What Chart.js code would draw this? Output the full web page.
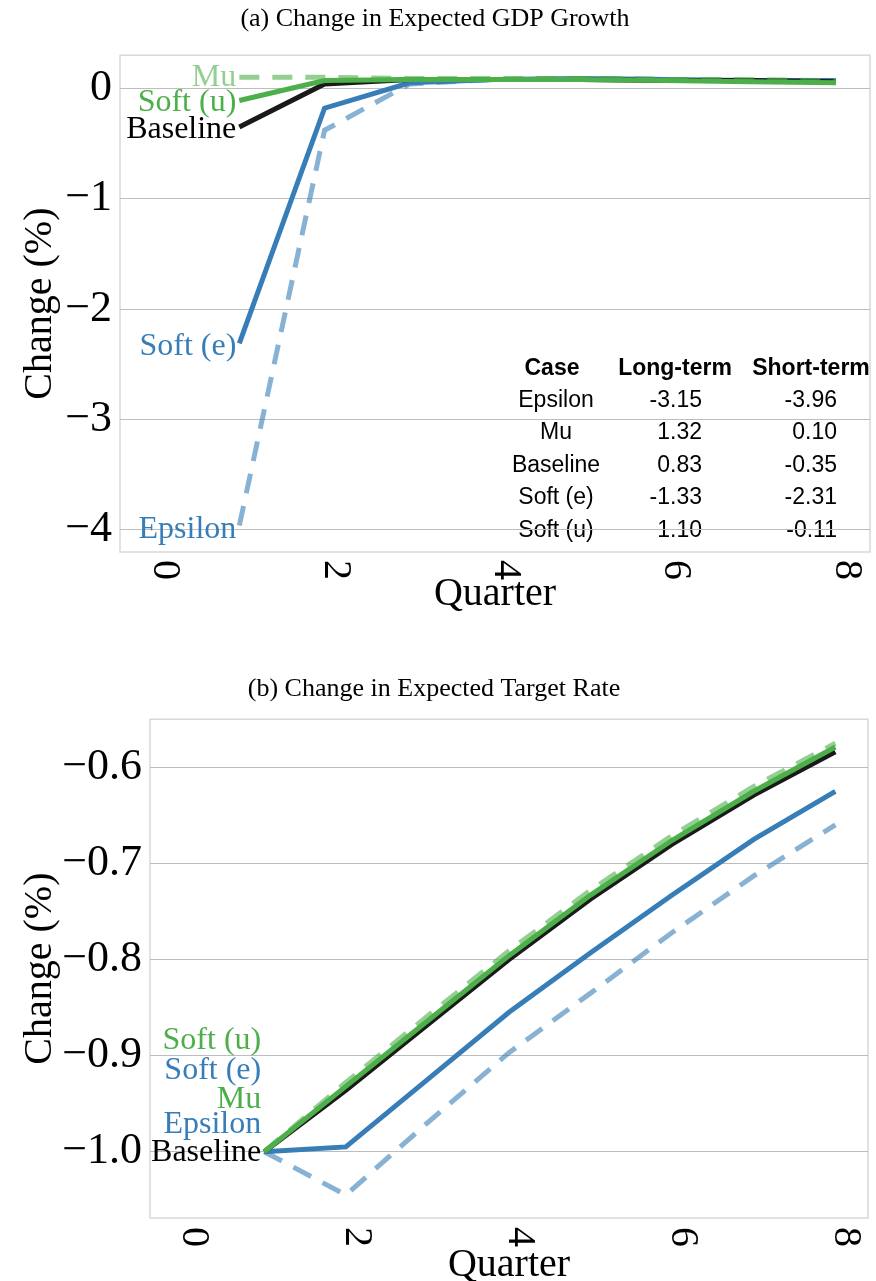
<!DOCTYPE html>
<html>
<head>
<meta charset="utf-8">
<script src="https://cdn.jsdelivr.net/npm/chart.js@4/dist/chart.umd.min.js"></script>
<style>
  body { margin: 0; background: #fff; }
  canvas { display: block; }
</style>
</head>
<body>
<canvas id="gdpChart" width="876" height="640"></canvas>
<canvas id="rateChart" width="876" height="641"></canvas>
<script>
/* ---------- data ---------- */
const quarters = [1, 2, 3, 4, 5, 6, 7, 8];
const xTicks = [0, 2, 4, 6, 8];

// (a) change in expected GDP growth
const gdpMu       = [0.10, 0.10, 0.09, 0.09, 0.09, 0.08, 0.08, 0.07];
const gdpSoftU    = [-0.11, 0.07, 0.08, 0.08, 0.08, 0.07, 0.06, 0.05];
const gdpBaseline = [-0.35, 0.04, 0.08, 0.08, 0.08, 0.07, 0.07, 0.06];
const gdpSoftE    = [-2.31, -0.18, 0.05, 0.08, 0.09, 0.08, 0.07, 0.07];
const gdpEpsilon  = [-3.96, -0.38, 0.04, 0.08, 0.09, 0.08, 0.07, 0.07];
const gdpYTicks = [0, -1, -2, -3, -4];

// inset table
const tableHeader = ["Case", "Long-term", "Short-term"];
const tableCases  = ["Epsilon", "Mu", "Baseline", "Soft (e)", "Soft (u)"];
const tableLong   = ["-3.15", "1.32", "0.83", "-1.33", "1.10"];
const tableShort  = ["-3.96", "0.10", "-0.35", "-2.31", "-0.11"];

// (b) change in expected target rate
const rateMu       = [-1.0, -0.928, -0.859, -0.791, -0.728, -0.671, -0.620, -0.575];
const rateSoftU    = [-1.0, -0.932, -0.864, -0.796, -0.733, -0.676, -0.625, -0.579];
const rateBaseline = [-1.0, -0.936, -0.868, -0.800, -0.737, -0.680, -0.629, -0.584];
const rateSoftE    = [-1.0, -0.995, -0.925, -0.855, -0.793, -0.733, -0.675, -0.625];
const rateEpsilon  = [-1.0, -1.045, -0.970, -0.897, -0.835, -0.772, -0.713, -0.660];
const rateYTicks = [-0.6, -0.7, -0.8, -0.9, -1.0];

/* ---------- styles ---------- */
const SERIF = "'Liberation Serif', 'Times New Roman', serif";
const SANS = "'Liberation Sans', Arial, sans-serif";
const GREEN = "#4daf4a";
const GREEN_LT = "rgba(77,175,74,0.6)";
const BLUE = "#377eb8";
const BLUE_LT = "rgba(55,126,184,0.6)";
const BLACK = "#1a1a1a";

function pts(vals) {
  return quarters.map((q, i) => ({ x: q, y: vals[i] }));
}

function makeDatasets(mu, softU, base, softE, eps, lab) {
  // first dataset is drawn on top
  return [
    { label: "Mu", data: pts(mu), borderColor: GREEN_LT, borderDash: [20, 13], labelColor: lab.muColor, labelDy: lab.dy[0] },
    { label: "Soft (u)", data: pts(softU), borderColor: GREEN, labelColor: GREEN, labelDy: lab.dy[1] },
    { label: "Baseline", data: pts(base), borderColor: BLACK, labelColor: "#000", labelDy: lab.dy[2] },
    { label: "Soft (e)", data: pts(softE), borderColor: BLUE, labelColor: BLUE, labelDy: lab.dy[3] },
    { label: "Epsilon", data: pts(eps), borderColor: BLUE_LT, borderDash: [20, 13], labelColor: BLUE, labelDy: lab.dy[4] }
  ];
}

/* ---------- plugins ---------- */
const frameAndTable = {
  id: "frameAndTable",
  beforeDraw(chart, args, opts) {
    const { ctx, chartArea: a } = chart;
    ctx.save();
    ctx.strokeStyle = "#d9d9d9";
    ctx.lineWidth = 1.5;
    ctx.strokeRect(a.left, a.top, a.right - a.left, a.bottom - a.top);

    if (opts.table) {
      const caseX = a.right - 314, longX = a.right - 168, shortX = a.right - 33;
      const headY = a.top + 313, rowY = a.top + 345, step = 32.6;
      ctx.fillStyle = "#000";
      ctx.textBaseline = "middle";
      ctx.font = "bold 23px " + SANS;
      ctx.textAlign = "center";
      ctx.fillText(tableHeader[0], caseX - 4, headY);
      ctx.fillText(tableHeader[1], longX - 27, headY);
      ctx.fillText(tableHeader[2], shortX - 26, headY);
      ctx.font = "23px " + SANS;
      tableCases.forEach((c, i) => {
        const y = rowY + i * step;
        ctx.textAlign = "center";
        ctx.fillText(c, caseX, y);
        ctx.textAlign = "right";
        ctx.fillText(tableLong[i], longX, y);
        ctx.fillText(tableShort[i], shortX, y);
      });
    }
    ctx.restore();
  },
  afterDatasetsDraw(chart) {
    // series names at the start of each line
    const { ctx } = chart;
    const xs = chart.scales.x, ys = chart.scales.y;
    ctx.save();
    ctx.font = "32px " + SERIF;
    ctx.textAlign = "right";
    ctx.textBaseline = "middle";
    chart.data.datasets.forEach(ds => {
      const p = ds.data[0];
      ctx.fillStyle = ds.labelColor;
      ctx.fillText(ds.label, xs.getPixelForValue(p.x) - 3, ys.getPixelForValue(p.y) + ds.labelDy);
    });
    ctx.restore();
  },
  afterDraw(chart, args, opts) {
    // x tick labels rotated clockwise
    const { ctx, chartArea: a } = chart;
    const xs = chart.scales.x;
    ctx.save();
    ctx.font = "40px " + SERIF;
    ctx.fillStyle = "#000";
    ctx.textAlign = "left";
    ctx.textBaseline = "alphabetic";
    xs.ticks.forEach(t => {
      ctx.save();
      ctx.translate(xs.getPixelForValue(t.value), a.bottom + opts.tickGap);
      ctx.rotate(Math.PI / 2);
      ctx.fillText(String(t.value), 0, 0);
      ctx.restore();
    });
    ctx.restore();
  }
};

function makeChart(id, cfg) {
  return new Chart(document.getElementById(id), {
    type: "line",
    data: { datasets: cfg.datasets },
    options: {
      responsive: false,
      animation: false,
      devicePixelRatio: 1,
      layout: { padding: { left: 0, right: cfg.padRight, top: 0, bottom: 0 } },
      elements: {
        line: { borderWidth: 5, tension: 0, fill: false },
        point: { radius: 0 }
      },
      plugins: {
        legend: { display: false },
        tooltip: { enabled: false },
        title: {
          display: true,
          text: cfg.title,
          color: "#000",
          font: { family: SERIF, size: 26, weight: "normal" },
          padding: cfg.titlePad
        },
        frameAndTable: { table: cfg.table, tickGap: cfg.tickGap }
      },
      scales: {
        x: {
          type: "linear",
          min: -0.4,
          max: 8.4,
          afterBuildTicks: s => { s.ticks = xTicks.map(v => ({ value: v })); },
          afterFit: s => { s.height = cfg.xHeight; },
          grid: { display: false },
          border: { display: false },
          ticks: { display: false },
          title: {
            display: true,
            text: "Quarter",
            color: "#000",
            font: { family: SERIF, size: 40, lineHeight: 0.8 },
            padding: { top: 0, bottom: cfg.quarterPad }
          }
        },
        y: {
          min: cfg.yMin,
          max: cfg.yMax,
          afterBuildTicks: s => { s.ticks = cfg.yTicks.map(v => ({ value: v })); },
          afterFit: s => { s.width = cfg.yWidth; },
          grid: { color: "#bdbdbd", lineWidth: 1, drawTicks: false },
          border: { display: false },
          ticks: {
            color: "#000",
            padding: 8,
            font: { family: SERIF, size: 44 },
            callback: v => v.toFixed(cfg.decimals).replace("-", "\u2212")
          },
          title: {
            display: true,
            text: "Change (%)",
            color: "#000",
            font: { family: SERIF, size: 40, lineHeight: 1 },
            padding: { top: 20, bottom: 0 }
          }
        }
      }
    },
    plugins: [frameAndTable]
  });
}

makeChart("gdpChart", {
  title: "(a) Change in Expected GDP Growth",
  titlePad: { top: 4, bottom: 20 },
  datasets: makeDatasets(gdpMu, gdpSoftU, gdpBaseline, gdpSoftE, gdpEpsilon,
    { muColor: GREEN_LT, dy: [0, 2, 3, 3, 4] }),
  yMin: -4.2, yMax: 0.3, yTicks: gdpYTicks, decimals: 0,
  yWidth: 120, xHeight: 88, padRight: 6, quarterPad: 30, tickGap: 8,
  table: true
});

makeChart("rateChart", {
  title: "(b) Change in Expected Target Rate",
  titlePad: { top: 34, bottom: 14 },
  datasets: makeDatasets(rateMu, rateSoftU, rateBaseline, rateSoftE, rateEpsilon,
    { muColor: GREEN, dy: [-52, -111, 1, -81, -27] }),
  yMin: -1.069, yMax: -0.55, yTicks: rateYTicks, decimals: 1,
  yWidth: 150, xHeight: 63, padRight: 8, quarterPad: 0, tickGap: 9,
  table: false
});
</script>
</body>
</html>
